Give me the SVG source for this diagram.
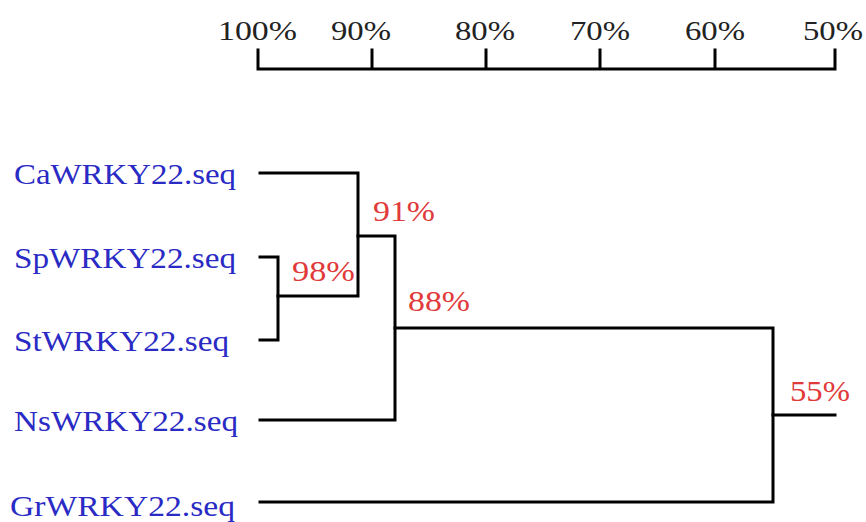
<svg xmlns="http://www.w3.org/2000/svg" width="866" height="522" viewBox="0 0 866 522">
<style>
.ln{stroke:#000;stroke-width:3;fill:none;stroke-linecap:square}
.ax{font-family:"Liberation Serif","Times New Roman",serif;font-size:28px;fill:#222}
.lb{font-family:"Liberation Serif","Times New Roman",serif;font-size:30px;fill:#2a2ac4}
.bs{font-family:"Liberation Serif","Times New Roman",serif;font-size:29px;fill:#e03a3a}
</style>
<rect width="866" height="522" fill="#fff"/>
<g id="scale">
<path class="ln" d="M258 69H835M258 50V69M372 50V69M486 50V69M600 50V69M715 50V69M835 50V69"/>
<text class="ax" x="218" y="40" textLength="79" lengthAdjust="spacingAndGlyphs">100%</text>
<text class="ax" x="331" y="40" textLength="60" lengthAdjust="spacingAndGlyphs">90%</text>
<text class="ax" x="455" y="40" textLength="60" lengthAdjust="spacingAndGlyphs">80%</text>
<text class="ax" x="570" y="40" textLength="60" lengthAdjust="spacingAndGlyphs">70%</text>
<text class="ax" x="685" y="40" textLength="60" lengthAdjust="spacingAndGlyphs">60%</text>
<text class="ax" x="803" y="40" textLength="60" lengthAdjust="spacingAndGlyphs">50%</text>
</g>
<g id="leaf-ca"><text class="lb" x="14" y="184" textLength="222" lengthAdjust="spacingAndGlyphs">CaWRKY22.seq</text></g>
<g id="leaf-sp"><text class="lb" x="14" y="268" textLength="222" lengthAdjust="spacingAndGlyphs">SpWRKY22.seq</text></g>
<g id="leaf-st"><text class="lb" x="14" y="351" textLength="215" lengthAdjust="spacingAndGlyphs">StWRKY22.seq</text></g>
<g id="leaf-ns"><text class="lb" x="14" y="431" textLength="224" lengthAdjust="spacingAndGlyphs">NsWRKY22.seq</text></g>
<g id="leaf-gr"><text class="lb" x="10" y="516" textLength="225" lengthAdjust="spacingAndGlyphs">GrWRKY22.seq</text></g>
<g id="node-98"><text class="bs" x="292" y="281" textLength="63" lengthAdjust="spacingAndGlyphs">98%</text></g>
<g id="node-91"><text class="bs" x="373" y="221" textLength="62" lengthAdjust="spacingAndGlyphs">91%</text></g>
<g id="node-88"><text class="bs" x="408" y="311" textLength="62" lengthAdjust="spacingAndGlyphs">88%</text></g>
<g id="node-55"><text class="bs" x="790" y="401" textLength="60" lengthAdjust="spacingAndGlyphs">55%</text></g>
<g id="connectors">
<path class="ln" d="M260 173H358V296H278"/>
<path class="ln" d="M260 257H278V340H260"/>
<path class="ln" d="M358 236H395V420H260"/>
<path class="ln" d="M395 328H773V502H260"/>
<path class="ln" d="M773 415H835"/>
</g>
</svg>
